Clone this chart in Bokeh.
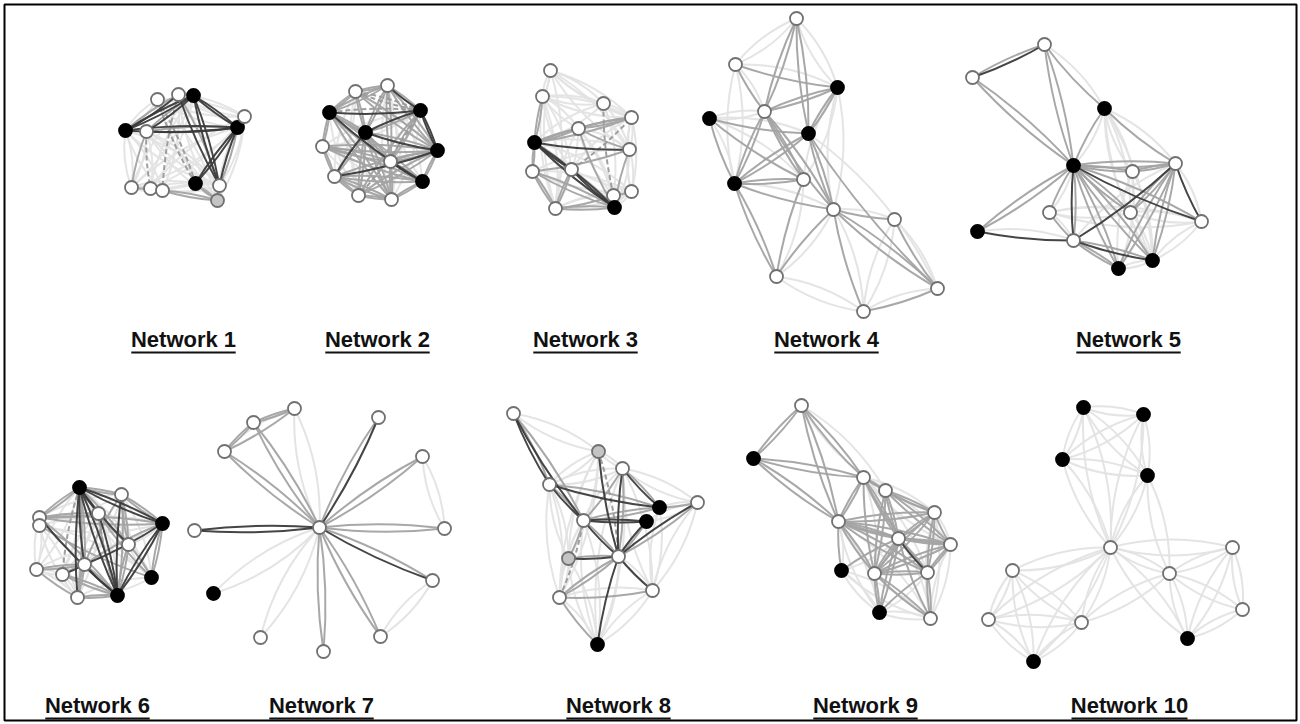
import math
from bokeh.plotting import figure
from bokeh.models import ColumnDataSource, Range1d
from bokeh.embed import file_html
from bokeh.resources import INLINE
from bokeh.core.properties import value

# ---------------------------------------------------------------- data
# Node layouts (page pixel coordinates), node kinds (w = white, b = black,
# g = grey) and edges as (i, j, tones) where tones gives the two strokes of
# each edge: d = dark, m = mid grey, l = light grey, s = dashed mid grey.

N1_X = [157, 178, 193, 125, 146, 237, 244, 195, 219, 217, 131, 150, 162]
N1_Y = [99, 94, 95, 130, 131, 127, 116, 183, 185, 200, 187, 188, 190]
N1_KIND = "wwbbwbwbwgwww"
N1_EDGES = [
    (3, 2, "dd"), (3, 1, "dm"), (3, 5, "dd"), (4, 5, "dm"), (2, 5, "dd"),
    (2, 8, "dd"), (5, 7, "dd"), (5, 8, "dm"), (1, 8, "dm"), (4, 2, "dm"),
    (0, 7, "ss"), (1, 12, "sl"), (4, 11, "sl"), (4, 10, "ml"), (12, 9, "mm"),
    (7, 9, "mm"), (8, 9, "ml"), (10, 11, "ml"), (11, 12, "ll"),
    (3, 10, "ll"), (3, 0, "ll"), (0, 6, "ll"), (6, 8, "ll"), (10, 12, "ll"),
    (0, 5, "ll"), (1, 6, "ll"), (3, 12, "ll"), (4, 8, "ll"), (4, 9, "ll"),
    (10, 7, "ll"), (11, 8, "ll"), (0, 9, "ll"), (1, 9, "ll"), (2, 10, "ll"),
    (2, 11, "ll"), (6, 9, "ll"), (3, 8, "ll"), (5, 10, "ll"), (6, 11, "ll"),
    (12, 8, "ll"),
]

N2_X = [355, 387, 329, 420, 365, 322, 437, 390, 334, 422, 358, 391]
N2_Y = [91, 85, 112, 110, 132, 146, 150, 161, 176, 181, 195, 199]
N2_KIND = "wwbbbwbwwbww"
N2_EDGES = [
    (2, 3, "ds"), (4, 6, "dm"), (4, 8, "dm"), (3, 6, "dd"), (8, 6, "dm"),
    (7, 9, "dm"), (2, 9, "dm"), (3, 4, "dm"), (1, 3, "dm"),
    (0, 1, "mm"), (0, 2, "mm"), (2, 5, "mm"), (5, 8, "mm"), (8, 10, "mm"),
    (10, 11, "mm"), (11, 9, "mm"), (9, 6, "mm"), (1, 4, "mm"), (0, 4, "mm"),
    (2, 4, "mm"), (5, 7, "mm"), (5, 6, "mm"), (2, 7, "mm"), (2, 11, "mm"),
    (4, 11, "mm"), (4, 10, "mm"), (4, 7, "mm"), (1, 6, "mm"), (1, 7, "mm"),
    (3, 7, "mm"), (3, 10, "ms"), (0, 6, "mm"), (5, 9, "mm"), (8, 11, "mm"),
    (8, 9, "mm"), (10, 6, "mm"), (7, 11, "mm"), (7, 6, "mm"), (0, 3, "ss"),
    (1, 2, "mm"),
    (0, 10, "ll"), (1, 11, "ll"), (5, 11, "ll"), (2, 10, "ll"), (0, 8, "ll"),
    (3, 11, "ll"), (1, 9, "ll"), (5, 3, "ll"),
]

N3_X = [550, 542, 603, 631, 578, 534, 629, 532, 571, 613, 631, 614, 555]
N3_Y = [70, 96, 103, 117, 128, 142, 149, 171, 169, 195, 191, 207, 208]
N3_KIND = "wwwwwbwwwwwbw"
N3_EDGES = [
    (5, 11, "dd"), (5, 6, "dl"), (5, 8, "dm"), (8, 11, "dm"),
    (1, 5, "mm"), (5, 7, "mm"), (7, 12, "mm"), (5, 4, "mm"), (5, 3, "mm"),
    (4, 3, "mm"), (4, 6, "ml"), (8, 3, "sl"), (2, 9, "sl"), (12, 8, "mm"),
    (12, 11, "mm"), (7, 11, "mm"), (12, 9, "ml"), (4, 11, "ml"),
    (9, 10, "ml"), (6, 11, "ml"), (7, 6, "ml"),
    (0, 1, "ll"), (0, 2, "ll"), (0, 3, "ll"), (1, 2, "ll"), (1, 4, "ll"),
    (2, 3, "ll"), (0, 6, "ll"), (1, 3, "ll"), (3, 6, "ll"), (6, 10, "ll"),
    (10, 11, "ll"), (7, 10, "ll"), (1, 12, "ll"), (0, 12, "ll"), (2, 6, "ll"),
    (4, 9, "ll"), (1, 8, "ll"), (2, 5, "ll"), (5, 10, "ll"), (12, 10, "ll"),
    (3, 10, "ll"), (4, 12, "ll"),
]

N4_X = [796, 735, 837, 764, 709, 808, 734, 803, 833, 894, 776, 937, 863]
N4_Y = [18, 64, 87, 111, 118, 133, 183, 179, 209, 219, 276, 288, 311]
N4_KIND = "wwbwbbbwwwwww"
N4_EDGES = [
    (0, 3, "mm"), (0, 5, "mm"), (1, 2, "ml"), (1, 3, "ml"), (2, 3, "mm"),
    (2, 5, "mm"), (4, 5, "ml"), (4, 6, "ml"), (4, 7, "ml"), (3, 6, "mm"),
    (3, 7, "mm"), (3, 8, "mm"), (5, 6, "mm"), (5, 8, "mm"), (5, 11, "ml"),
    (6, 7, "mm"), (6, 8, "ml"), (6, 10, "mm"), (7, 10, "ml"), (8, 10, "ml"),
    (8, 9, "ml"), (8, 11, "mm"), (8, 12, "ml"), (9, 11, "ml"), (12, 11, "ml"),
    (0, 1, "ll"), (0, 2, "ll"), (1, 6, "ll"), (2, 8, "ll"), (9, 12, "ll"),
    (10, 12, "ll"), (4, 3, "ll"), (2, 7, "ll"),
]

N5_X = [1044, 972, 1104, 1073, 1175, 1132, 1049, 1130, 1201, 977, 1073, 1152, 1118]
N5_Y = [44, 77, 108, 165, 163, 171, 212, 212, 221, 231, 240, 260, 268]
N5_KIND = "wwbbwwwwwbwbb"
N5_EDGES = [
    (1, 0, "dm"), (3, 10, "dm"), (9, 10, "dl"), (10, 11, "dm"), (4, 8, "dl"),
    (10, 4, "dl"), (3, 8, "dm"),
    (0, 3, "mm"), (1, 3, "mm"), (0, 2, "ml"), (2, 3, "ml"), (2, 4, "ml"),
    (3, 4, "mm"), (3, 5, "mm"), (3, 6, "ml"), (3, 9, "mm"), (3, 12, "mm"),
    (3, 11, "mm"), (3, 7, "mm"), (4, 11, "mm"), (4, 12, "mm"), (10, 12, "mm"),
    (4, 7, "mm"), (4, 5, "mm"), (6, 10, "ml"),
    (2, 11, "ll"), (2, 5, "ll"), (5, 11, "ll"), (6, 8, "ll"), (7, 11, "ll"),
    (5, 12, "ll"), (7, 8, "ll"), (6, 7, "ll"), (2, 7, "ll"), (11, 8, "ll"),
    (12, 11, "ll"),
]

N6_X = [79, 121, 39, 39, 98, 162, 128, 84, 36, 62, 151, 117, 77]
N6_Y = [487, 494, 517, 525, 513, 523, 544, 564, 569, 574, 577, 595, 597]
N6_KIND = "bwwwwbwwwwbbw"
N6_EDGES = [
    (0, 11, "dd"), (0, 5, "dd"), (0, 6, "dm"), (0, 7, "dm"), (2, 11, "dm"),
    (7, 5, "dm"), (11, 5, "dd"), (11, 4, "dm"), (1, 11, "dm"), (0, 12, "dm"),
    (0, 4, "dm"), (7, 11, "dm"), (9, 7, "dm"), (0, 9, "sl"), (4, 11, "sl"),
    (0, 1, "mm"), (0, 2, "mm"), (1, 5, "mm"), (2, 5, "mm"), (8, 7, "mm"),
    (8, 12, "ml"), (12, 11, "mm"), (10, 5, "mm"), (10, 6, "ml"), (1, 6, "mm"),
    (4, 6, "ml"), (2, 4, "mm"), (3, 10, "ml"), (9, 11, "mm"), (12, 7, "mm"),
    (4, 10, "ml"), (1, 7, "ml"), (6, 11, "mm"),
    (0, 8, "ll"), (2, 8, "ll"), (8, 9, "ll"), (9, 12, "ll"), (1, 10, "ll"),
    (5, 6, "ll"), (12, 10, "ll"), (3, 12, "ll"), (4, 9, "ll"), (1, 2, "ll"),
    (0, 10, "ll"), (6, 8, "ll"), (3, 5, "ll"), (4, 12, "ll"),
]

N7_X = [319, 294, 253, 224, 378, 422, 194, 444, 432, 213, 260, 380, 323]
N7_Y = [527, 408, 422, 451, 417, 456, 530, 528, 580, 593, 637, 636, 651]
N7_KIND = "wwwwwwwwwbwww"
N7_EDGES = [
    (0, 6, "dd"), (0, 4, "dm"), (0, 8, "dm"),
    (0, 2, "mm"), (0, 3, "mm"), (0, 5, "mm"), (0, 7, "mm"), (0, 11, "mm"),
    (0, 12, "mm"), (2, 3, "mm"), (2, 1, "mm"), (3, 1, "ml"),
    (0, 1, "ll"), (0, 10, "ll"), (0, 9, "ll"), (5, 7, "ll"), (8, 11, "ll"),
]

N8_X = [513, 598, 622, 549, 697, 659, 646, 583, 568, 618, 652, 559, 597]
N8_Y = [413, 451, 468, 484, 502, 507, 521, 520, 558, 556, 590, 597, 644]
N8_KIND = "wgwwwbbwgwwwb"
N8_EDGES = [
    (0, 3, "dm"), (0, 7, "dm"), (3, 7, "dm"), (3, 5, "dm"), (1, 9, "ds"),
    (2, 9, "dm"), (2, 5, "dm"), (7, 6, "dd"), (7, 9, "dm"), (6, 9, "dm"),
    (4, 9, "dm"), (8, 9, "dm"), (9, 10, "dl"), (9, 12, "dl"),
    (11, 12, "ml"), (11, 9, "mm"), (11, 10, "ml"), (8, 7, "ml"), (7, 2, "ml"),
    (7, 5, "mm"), (11, 7, "sl"), (5, 4, "ml"),
    (0, 1, "ll"), (2, 4, "ll"), (8, 11, "ll"), (3, 8, "ll"), (3, 11, "ll"),
    (1, 3, "ll"), (1, 11, "ll"), (2, 10, "ll"), (5, 10, "ll"), (4, 10, "ll"),
    (8, 12, "ll"), (1, 2, "ll"), (3, 2, "ll"), (7, 12, "ll"), (2, 12, "ll"),
    (10, 12, "ll"), (1, 8, "ll"), (4, 6, "ll"),
]

N9_X = [801, 753, 863, 885, 934, 838, 898, 950, 841, 874, 927, 879, 930]
N9_Y = [405, 458, 477, 490, 512, 521, 538, 544, 570, 573, 572, 612, 618]
N9_KIND = "wbwwwwwwbwwbw"
N9_EDGES = [
    (6, 10, "dm"),
    (0, 1, "mm"), (0, 2, "mm"), (0, 5, "mm"), (1, 2, "mm"), (1, 5, "mm"),
    (2, 5, "mm"), (2, 3, "mm"), (2, 4, "ml"), (3, 4, "mm"), (3, 6, "mm"),
    (5, 4, "mm"), (5, 6, "mm"), (5, 7, "mm"), (5, 8, "ml"), (5, 9, "mm"),
    (5, 10, "mm"), (2, 6, "mm"), (2, 9, "ml"), (3, 9, "mm"), (4, 6, "mm"),
    (4, 9, "mm"), (4, 10, "mm"), (6, 7, "mm"), (6, 9, "mm"), (6, 11, "mm"),
    (6, 12, "ml"), (7, 10, "mm"), (7, 9, "mm"), (9, 10, "mm"), (9, 11, "mm"),
    (9, 12, "mm"), (10, 11, "ml"), (10, 12, "mm"), (4, 7, "ml"), (3, 7, "mm"),
    (2, 10, "ml"), (6, 8, "ml"),
    (0, 3, "ll"), (5, 12, "ll"), (8, 11, "ll"), (5, 11, "ll"), (8, 12, "ll"),
    (2, 7, "ll"), (11, 12, "ll"), (4, 12, "ll"), (7, 12, "ll"),
]

N10_X = [1083, 1143, 1062, 1147, 1110, 1232, 1012, 1169, 1242, 988, 1081, 1187, 1033]
N10_Y = [407, 414, 459, 475, 547, 547, 570, 573, 609, 619, 622, 638, 661]
N10_KIND = "bbbbwwwwwwwbb"
N10_EDGES = [
    (0, 1, "ll"), (0, 2, "ll"), (0, 3, "ll"), (1, 2, "ll"), (1, 3, "ll"),
    (2, 3, "ll"), (0, 4, "ll"), (1, 4, "ll"), (2, 4, "ll"), (3, 4, "ll"),
    (3, 7, "ll"), (4, 5, "ll"), (4, 7, "ll"), (4, 11, "ll"), (4, 6, "ll"),
    (4, 9, "ll"), (4, 10, "ll"), (4, 12, "ll"), (5, 7, "ll"), (5, 8, "ll"),
    (5, 11, "ll"), (7, 8, "ll"), (7, 11, "ll"), (8, 11, "ll"), (6, 9, "ll"),
    (6, 10, "ll"), (6, 12, "ll"), (9, 10, "ll"), (9, 12, "ll"), (10, 12, "ll"),
    (10, 7, "ll"),
]

LABELS = ["Network 1", "Network 2", "Network 3", "Network 4", "Network 5",
          "Network 6", "Network 7", "Network 8", "Network 9", "Network 10"]
LABEL_X = [183, 377, 585, 826, 1128, 97, 321, 618, 865, 1129]
LABEL_Y = [339, 339, 339, 339, 339, 705, 705, 705, 705, 705]

NETWORKS = [
    (N1_X, N1_Y, N1_KIND, N1_EDGES), (N2_X, N2_Y, N2_KIND, N2_EDGES),
    (N3_X, N3_Y, N3_KIND, N3_EDGES), (N4_X, N4_Y, N4_KIND, N4_EDGES),
    (N5_X, N5_Y, N5_KIND, N5_EDGES), (N6_X, N6_Y, N6_KIND, N6_EDGES),
    (N7_X, N7_Y, N7_KIND, N7_EDGES), (N8_X, N8_Y, N8_KIND, N8_EDGES),
    (N9_X, N9_Y, N9_KIND, N9_EDGES), (N10_X, N10_Y, N10_KIND, N10_EDGES),
]

# ---------------------------------------------------------------- styles
W, H = 1300, 724
STROKE = {
    "l": dict(color="#e3e3e3", dash="solid", bend=0.13),
    "m": dict(color="#a3a3a3", dash="solid", bend=0.06),
    "s": dict(color="#9a9a9a", dash="5 3", bend=0.06),
    "d": dict(color="#3b3b3b", dash="solid", bend=0.05),
}
DRAW_ORDER = ["l", "m", "s", "d"]
FILL = {"w": "#ffffff", "b": "#000000", "g": "#c4c4c4"}
OUTLINE = {"w": "#707070", "b": "#000000", "g": "#707070"}

p = figure(width=W, height=H, x_range=Range1d(0, W), y_range=Range1d(H, 0),
           x_axis_type=None, y_axis_type=None, output_backend="svg",
           toolbar_location=None, min_border=0)
p.grid.visible = False
p.outline_line_color = None
p.background_fill_color = "white"
p.border_fill_color = "white"

# each edge is a pair of slightly bowed strokes forming a thin lens
curves = {k: dict(x0=[], y0=[], x1=[], y1=[], cx=[], cy=[]) for k in STROKE}
for xs, ys, kinds, edges in NETWORKS:
    for i, j, tones in edges:
        x0, y0, x1, y1 = xs[i], ys[i], xs[j], ys[j]
        dx, dy = x1 - x0, y1 - y0
        length = math.hypot(dx, dy) or 1.0
        nx, ny = -dy / length, dx / length
        for side, t in zip((1, -1), tones):
            off = STROKE[t]["bend"] * length * side
            c = curves[t]
            c["x0"].append(x0); c["y0"].append(y0)
            c["x1"].append(x1); c["y1"].append(y1)
            c["cx"].append((x0 + x1) / 2 + nx * off)
            c["cy"].append((y0 + y1) / 2 + ny * off)

for t in DRAW_ORDER:
    st = STROKE[t]
    p.quadratic(x0="x0", y0="y0", x1="x1", y1="y1", cx="cx", cy="cy",
                source=ColumnDataSource(curves[t]), line_color=st["color"],
                line_width=2, line_dash=st["dash"], line_alpha=0.95)

node = dict(x=[], y=[], fill=[], line=[])
for xs, ys, kinds, edges in NETWORKS:
    for x, y, k in zip(xs, ys, kinds):
        node["x"].append(x); node["y"].append(y)
        node["fill"].append(FILL[k]); node["line"].append(OUTLINE[k])
p.scatter(x="x", y="y", source=ColumnDataSource(node), size=13,
          marker="circle", fill_color="fill", line_color="line", line_width=1.8)

# titles with underline
p.text(x=LABEL_X, y=LABEL_Y, text=LABELS, text_font=value("Liberation Sans"),
       text_font_style="bold", text_font_size="22px", text_align="center",
       text_baseline="middle", text_color="#111111")
half = [5.8 * len(s) for s in LABELS]
p.segment(x0=[x - h for x, h in zip(LABEL_X, half)], y0=[y + 13 for y in LABEL_Y],
          x1=[x + h for x, h in zip(LABEL_X, half)], y1=[y + 13 for y in LABEL_Y],
          line_color="#111111", line_width=2)

# page frame
p.quad(left=[4], right=[1296], top=[4], bottom=[720], fill_color=None,
       line_color="black", line_width=2)

open("out.html", "w").write(file_html(p, INLINE))
